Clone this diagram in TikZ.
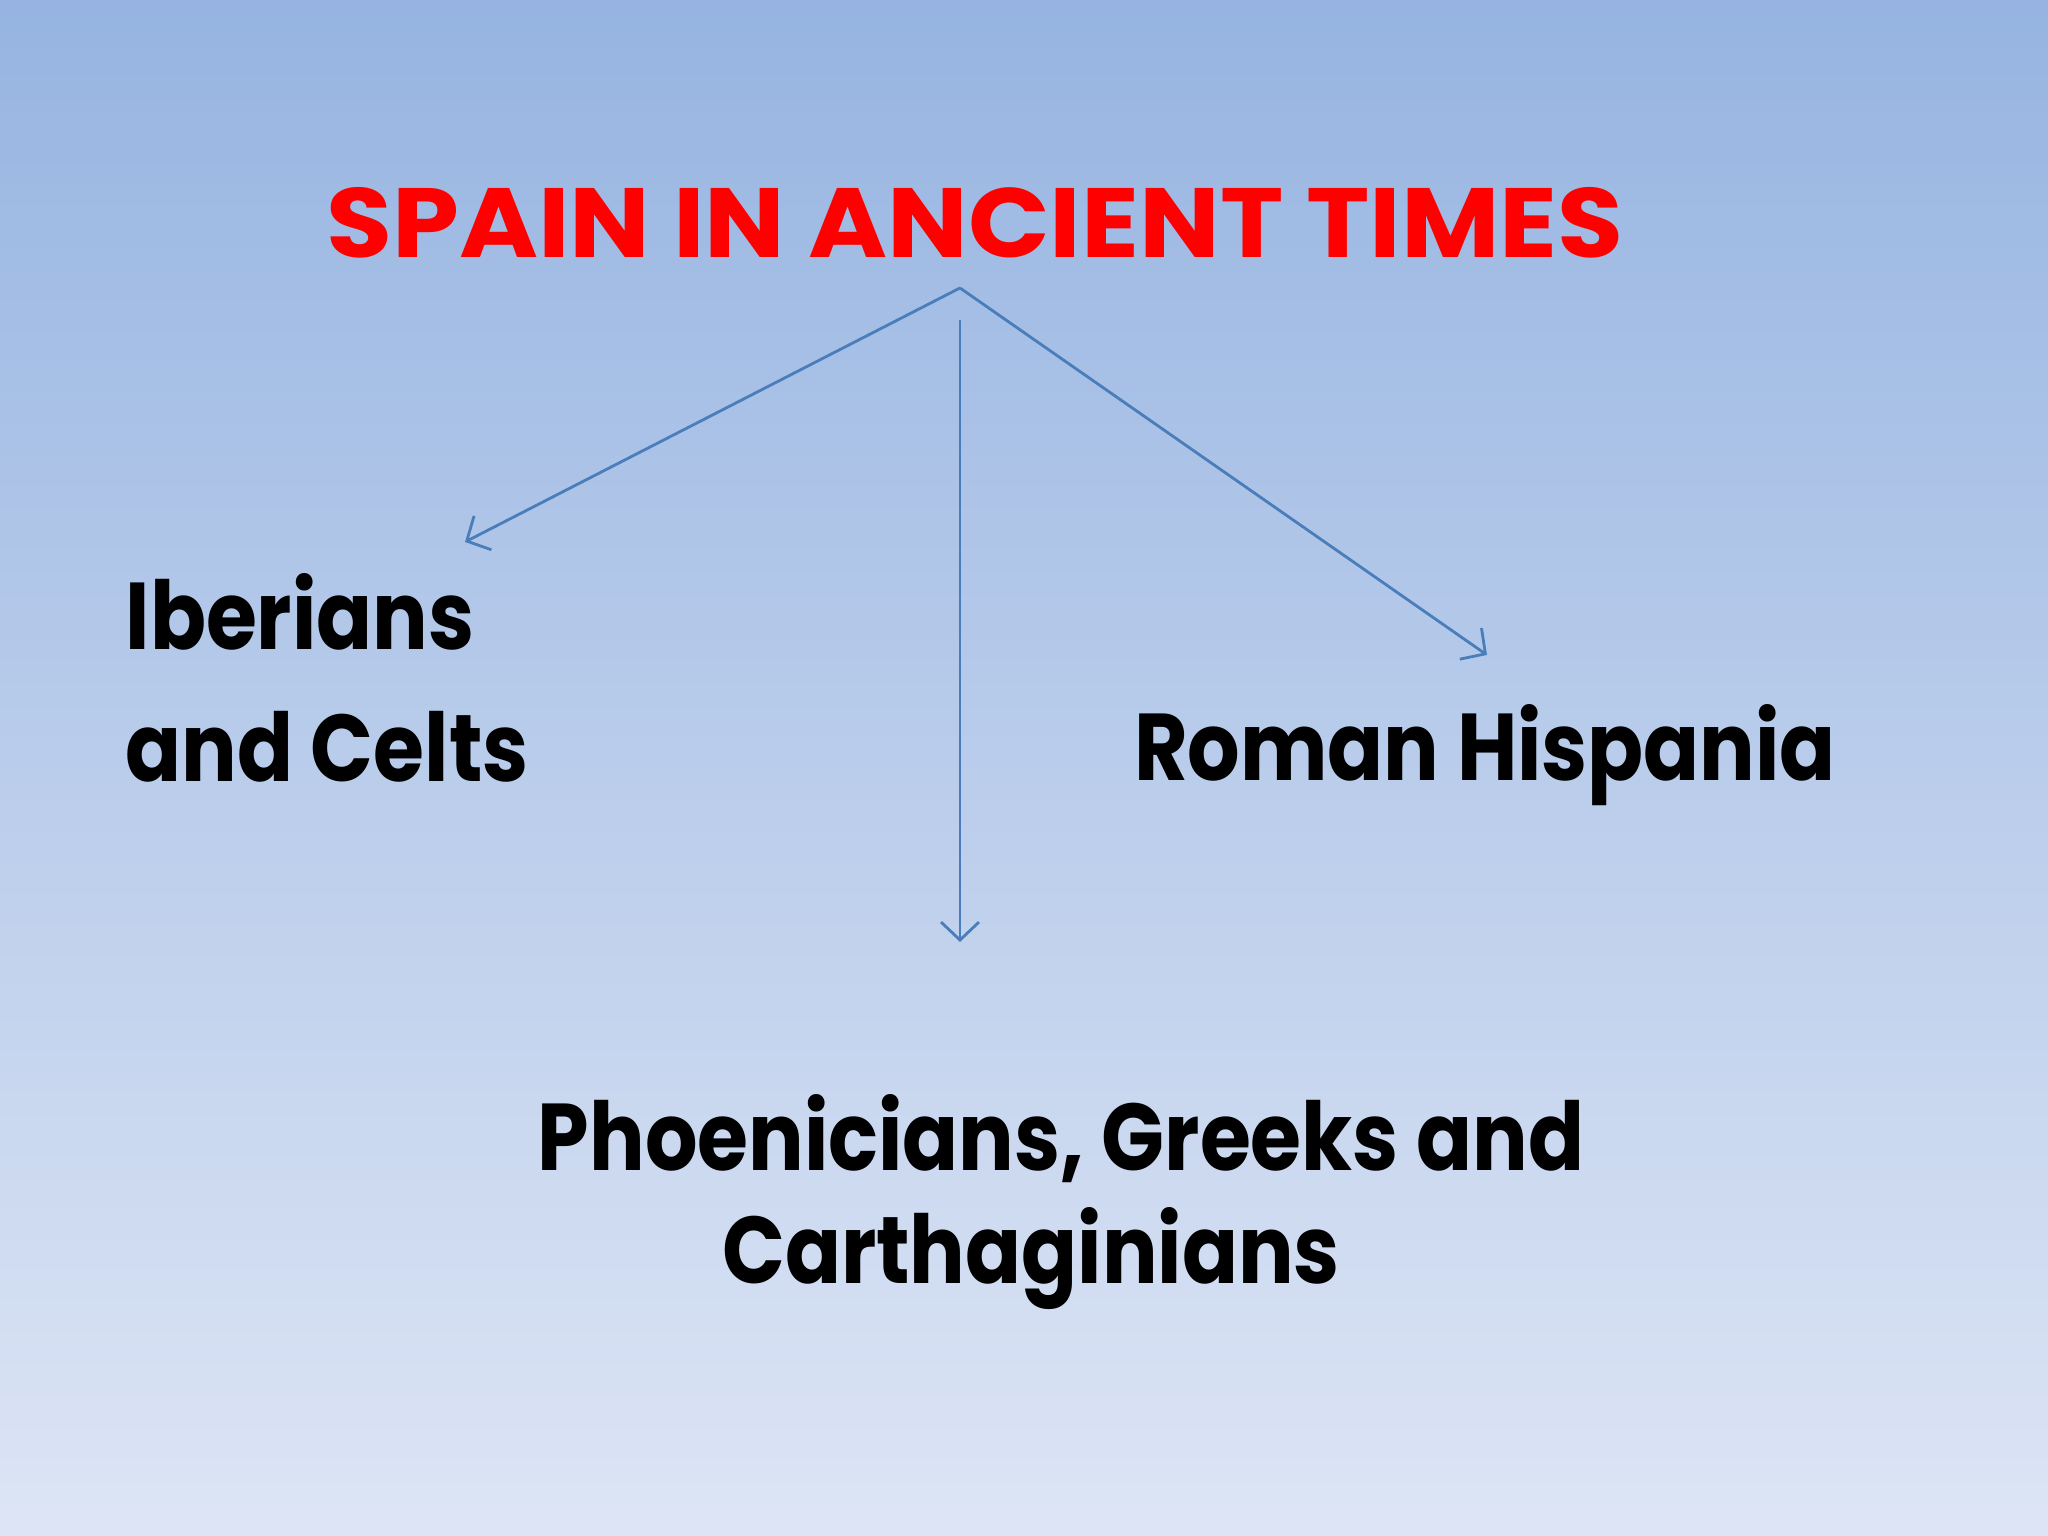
\documentclass[tikz,border=0pt]{standalone}
\usepackage{fontspec}
\setmainfont{Poppins}
\usetikzlibrary{arrows.meta}
\definecolor{slidetop}{RGB}{150,180,225}
\definecolor{slidebot}{RGB}{221,229,245}
\definecolor{arrblue}{RGB}{74,126,187}
\newcommand{\widetxt}[1]{\scalebox{1.09}[1]{#1}}
\newcommand{\narrowtxt}[1]{\scalebox{0.87}[1]{#1}}
\tikzset{
  ttl/.style={font=\fontsize{28}{34}\selectfont\bfseries, text=red, inner sep=0pt},
  lbl/.style={font=\fontsize{27}{33}\selectfont\bfseries, text=black, inner sep=0pt},
  arr/.style={draw=arrblue, line width=0.8pt, -{Straight Barb[length=1.8mm,width=3.8mm]}}
}
\begin{document}
\begin{tikzpicture}
  \shade[top color=slidetop, bottom color=slidebot] (0,0) rectangle (20.48,15.36);
  \useasboundingbox (0,0) rectangle (20.48,15.36);
  % title
  \node[ttl, anchor=base] (title) at (9.75,12.78) {\widetxt{SPAIN IN ANCIENT TIMES}};
  % branches
  \node[lbl, anchor=base west] (iber) at (1.25,8.86) {\narrowtxt{Iberians}};
  \node[lbl, anchor=base west] (celts) at (1.25,7.54) {\narrowtxt{and Celts}};
  \node[lbl, anchor=base] (roman) at (14.85,7.55) {\narrowtxt{Roman Hispania}};
  \node[lbl, anchor=base] (phoen) at (10.61,3.65) {\narrowtxt{Phoenicians, Greeks and}};
  \node[lbl, anchor=base] (carth) at (10.31,2.52) {\narrowtxt{Carthaginians}};
  % arrows
  \coordinate (apex) at (9.60,12.48);
  \coordinate (midtop) at (9.60,12.16);
  \coordinate (lefttip) at (4.65,9.94);
  \coordinate (righttip) at (14.87,8.81);
  \coordinate (midtip) at (9.60,5.94);
  \draw[arr] (apex) -- (lefttip);
  \draw[arr] (apex) -- (righttip);
  \draw[arr] (midtop) -- (midtip);
\end{tikzpicture}
\end{document}
